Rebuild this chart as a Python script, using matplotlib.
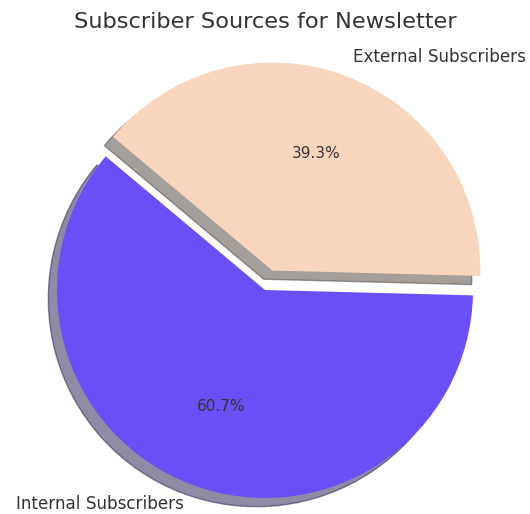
import matplotlib
matplotlib.use("Agg")
import matplotlib.pyplot as plt

labels = ["Internal Subscribers", "External Subscribers"]
sizes = [60.7, 39.3]
colors = ["#6a4ff7", "#f9d5bd"]
explode = [0, 0.1]

W, H = 530, 514
fig = plt.figure(figsize=(W / 100, H / 100), dpi=100)

cx, cy, R = 265, H - 290, 208
xlim = (-1.25, 1.25)
ylim = (-1.07, 1.3)
left = cx + xlim[0] * R
bottom = cy + ylim[0] * R
ax = fig.add_axes([left / W, bottom / H, (xlim[1] - xlim[0]) * R / W, (ylim[1] - ylim[0]) * R / H])

wedges, texts, autotexts = ax.pie(
    sizes, labels=labels, colors=colors, explode=explode, autopct="%1.1f%%",
    startangle=140, shadow={"ox": -0.03, "oy": -0.03},
    textprops={"color": "#333333", "fontsize": 11})
for t in texts:
    t.set_fontsize(12.1)
ax.set_xlim(*xlim)
ax.set_ylim(*ylim)
ax.set_aspect("auto")
ax.axis("off")

fig.text(0.5, 1 - 22 / H, "Subscriber Sources for Newsletter", ha="center", va="center",
         fontsize=16.2, color="#333333")

fig.savefig("out.png", dpi=100)
